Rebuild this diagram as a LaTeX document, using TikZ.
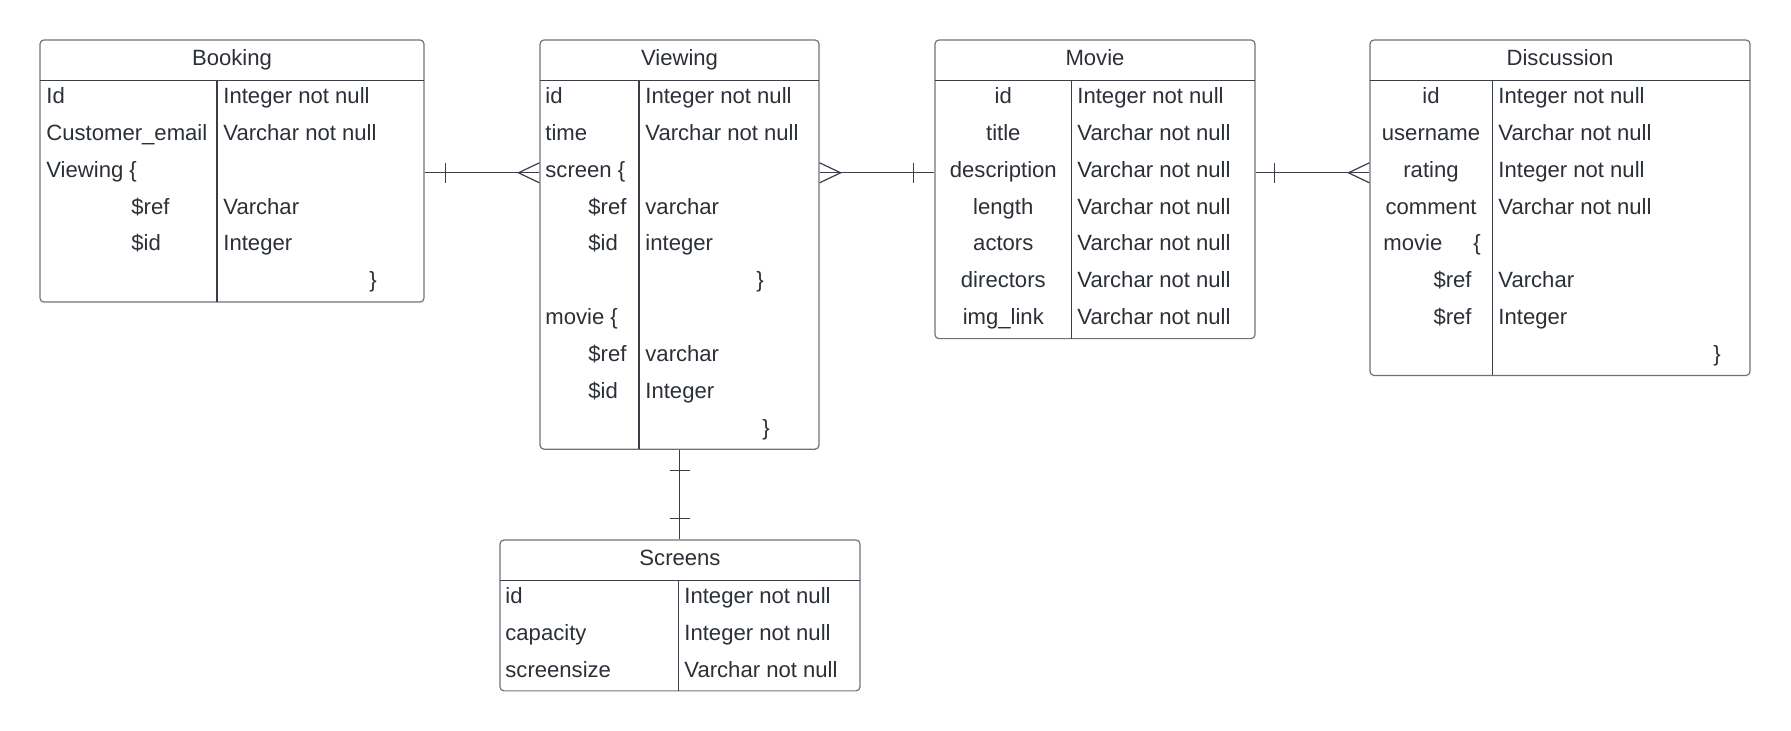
\documentclass[tikz,border=0pt]{standalone}
\usepackage{fontspec}
\setmainfont{Liberation Sans}
\usetikzlibrary{fit,calc}
\definecolor{ink}{HTML}{2B2F36}
\definecolor{edge}{HTML}{6E737B}
\definecolor{rule}{HTML}{3A3F47}
\begin{document}
\begin{tikzpicture}[x=0.5pt,y=-0.5pt,
  every node/.style={font=\fontsize{11.05}{13}\selectfont, text=ink, inner sep=0pt},
  tbl/.style={draw=edge, line width=0.6pt, rounded corners=2pt, inner sep=0pt},
  L/.style={anchor=base west},
  C/.style={anchor=base},
  R/.style={anchor=base east},
  rl/.style={draw=rule, line width=0.55pt},
  conn/.style={draw=rule, line width=0.6pt}]
\useasboundingbox (0,0) rectangle (1791,731);

% ---------------- Booking ----------------
\node[tbl, fit={(40,40)(424,302.1)}] (booking) {};
\draw[rl] (40,80.7) -- (424,80.7);
\draw[rl] (217,80.7) -- (217,302.1);
\node[C] (bkh) at (232,65.5) {Booking};
\node[L] (bk1l) at (46,103.5) {Id};
\node[L] (bk1r) at (223,103.5) {Integer not null};
\node[L] (bk2l) at (46,140.35) {Customer\_email};
\node[L] (bk2r) at (223,140.35) {Varchar not null};
\node[L] (bk3l) at (46,177.2) {Viewing \{};
\node[L] (bk4l) at (131,214.05) {\$ref};
\node[L] (bk4r) at (223,214.05) {Varchar};
\node[L] (bk5l) at (131,250.9) {\$id};
\node[L] (bk5r) at (223,250.9) {Integer};
\node[C] (bk6r) at (373,287.75) {\}};

% ---------------- Viewing ----------------
\node[tbl, fit={(540,40)(819,449.2)}] (viewing) {};
\draw[rl] (540,80.7) -- (819,80.7);
\draw[rl] (639,80.7) -- (639,449.2);
\node[C] (vwh) at (679.5,65.5) {Viewing};
\node[L] (vw1l) at (545,103.5) {id};
\node[L] (vw1r) at (645,103.5) {Integer not null};
\node[L] (vw2l) at (545,140.35) {time};
\node[L] (vw2r) at (645,140.35) {Varchar not null};
\node[L] (vw3l) at (545,177.2) {screen \{};
\node[L] (vw4l) at (588,214.05) {\$ref};
\node[L] (vw4r) at (645,214.05) {varchar};
\node[L] (vw5l) at (588,250.9) {\$id};
\node[L] (vw5r) at (645,250.9) {integer};
\node[C] (vw6r) at (760,287.75) {\}};
\node[L] (vw7l) at (545,324.6) {movie \{};
\node[L] (vw8l) at (588,361.45) {\$ref};
\node[L] (vw8r) at (645,361.45) {varchar};
\node[L] (vw9l) at (588,398.3) {\$id};
\node[L] (vw9r) at (645,398.3) {Integer};
\node[C] (vw10r) at (766,435.15) {\}};

% ---------------- Movie ----------------
\node[tbl, fit={(935,40)(1255,338.65)}] (movie) {};
\draw[rl] (935,80.7) -- (1255,80.7);
\draw[rl] (1071.7,80.7) -- (1071.7,338.65);
\node[C] (mvh) at (1095,65.5) {Movie};
\node[C] (mv1l) at (1003.3,103.5) {id};
\node[L] (mv1r) at (1077,103.5) {Integer not null};
\node[C] (mv2l) at (1003.3,140.35) {title};
\node[L] (mv2r) at (1077,140.35) {Varchar not null};
\node[C] (mv3l) at (1003.3,177.2) {description};
\node[L] (mv3r) at (1077,177.2) {Varchar not null};
\node[C] (mv4l) at (1003.3,214.05) {length};
\node[L] (mv4r) at (1077,214.05) {Varchar not null};
\node[C] (mv5l) at (1003.3,250.9) {actors};
\node[L] (mv5r) at (1077,250.9) {Varchar not null};
\node[C] (mv6l) at (1003.3,287.75) {directors};
\node[L] (mv6r) at (1077,287.75) {Varchar not null};
\node[C] (mv7l) at (1003.3,324.6) {img\_link};
\node[L] (mv7r) at (1077,324.6) {Varchar not null};

% ---------------- Discussion ----------------
\node[tbl, fit={(1370,40)(1750,375.5)}] (discussion) {};
\draw[rl] (1370,80.7) -- (1750,80.7);
\draw[rl] (1492.3,80.7) -- (1492.3,375.5);
\node[C] (dsh) at (1560,65.5) {Discussion};
\node[C] (ds1l) at (1431,103.5) {id};
\node[L] (ds1r) at (1498,103.5) {Integer not null};
\node[C] (ds2l) at (1431,140.35) {username};
\node[L] (ds2r) at (1498,140.35) {Varchar not null};
\node[C] (ds3l) at (1431,177.2) {rating};
\node[L] (ds3r) at (1498,177.2) {Integer not null};
\node[C] (ds4l) at (1431,214.05) {comment};
\node[L] (ds4r) at (1498,214.05) {Varchar not null};
\node[L] (ds5l) at (1383,250.9) {movie};
\node[C] (ds5b) at (1477,250.9) {\{};
\node[R] (ds6l) at (1472,287.75) {\$ref};
\node[L] (ds6r) at (1498,287.75) {Varchar};
\node[R] (ds7l) at (1472,324.6) {\$ref};
\node[L] (ds7r) at (1498,324.6) {Integer};
\node[C] (ds8r) at (1717,361.45) {\}};

% ---------------- Screens ----------------
\node[tbl, fit={(500,540)(860,690.85)}] (screens) {};
\draw[rl] (500,580.3) -- (860,580.3);
\draw[rl] (678.7,580.3) -- (678.7,690.85);
\node[C] (sch) at (680,565.5) {Screens};
\node[L] (sc1l) at (505,603.5) {id};
\node[L] (sc1r) at (684,603.5) {Integer not null};
\node[L] (sc2l) at (505,640.35) {capacity};
\node[L] (sc2r) at (684,640.35) {Integer not null};
\node[L] (sc3l) at (505,677.2) {screensize};
\node[L] (sc3r) at (684,677.2) {Varchar not null};

% ---------------- Connectors ----------------
\coordinate (lvl) at (0,172.8);

% Booking -- Viewing (one to many)
\coordinate (a1) at (booking.east |- lvl);
\coordinate (b1) at (viewing.west |- lvl);
\draw[conn] (a1) -- (b1);
\draw[conn] ($(a1)+(21,-10)$) -- ($(a1)+(21,10)$);
\draw[conn] ($(b1)+(0,-10)$) -- ($(b1)+(-21,0)$) -- ($(b1)+(0,10)$);

% Viewing -- Movie (many to one)
\coordinate (a2) at (viewing.east |- lvl);
\coordinate (b2) at (movie.west |- lvl);
\draw[conn] (a2) -- (b2);
\draw[conn] ($(a2)+(0,-10)$) -- ($(a2)+(21,0)$) -- ($(a2)+(0,10)$);
\draw[conn] ($(b2)+(-21,-10)$) -- ($(b2)+(-21,10)$);

% Movie -- Discussion (one to many)
\coordinate (a3) at (movie.east |- lvl);
\coordinate (b3) at (discussion.west |- lvl);
\draw[conn] (a3) -- (b3);
\draw[conn] ($(a3)+(19,-10)$) -- ($(a3)+(19,10)$);
\draw[conn] ($(b3)+(0,-10)$) -- ($(b3)+(-21,0)$) -- ($(b3)+(0,10)$);

% Viewing -- Screens (one to one)
\coordinate (a4) at (viewing.south);
\coordinate (b4) at (a4 |- screens.north);
\draw[conn] (a4) -- (b4);
\draw[conn] ($(a4)+(-10,21)$) -- ($(a4)+(10,21)$);
\draw[conn] ($(b4)+(-10,-21)$) -- ($(b4)+(10,-21)$);
\end{tikzpicture}
\end{document}
